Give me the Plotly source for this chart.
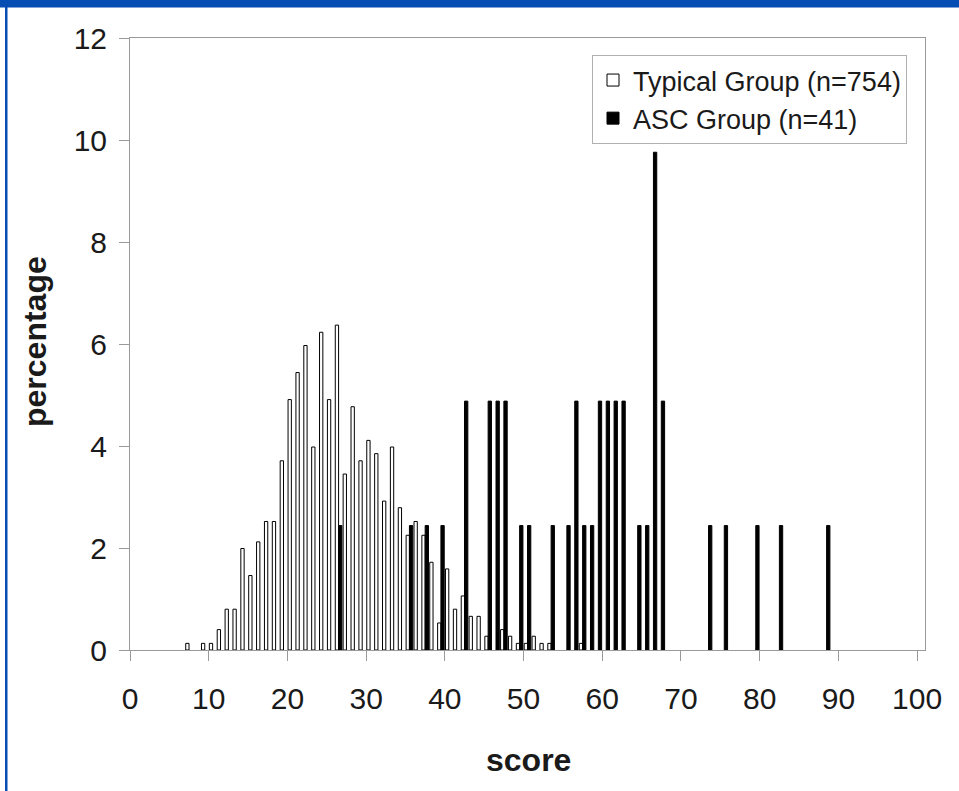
import plotly.graph_objects as go

# ---- data ----
typical_scores = [7, 9, 10, 11, 12, 13, 14, 15, 16, 17, 18, 19, 20, 21, 22, 23, 24, 25, 26, 27,
                  28, 29, 30, 31, 32, 33, 34, 35, 36, 37, 38, 39, 40, 41, 42, 43, 44, 45, 47,
                  48, 49, 50, 51, 52, 53, 57]
typical_pct = [0.13, 0.13, 0.13, 0.40, 0.80, 0.80, 1.99, 1.46, 2.12, 2.52, 2.52, 3.71, 4.91, 5.44,
               5.97, 3.98, 6.23, 4.91, 6.37, 3.45, 4.77, 3.71, 4.11, 3.85, 2.92, 3.98, 2.79, 2.25,
               2.52, 2.25, 1.72, 0.53, 1.59, 0.80, 1.06, 0.66, 0.66, 0.27, 0.40, 0.27, 0.13, 0.13,
               0.27, 0.13, 0.13, 0.13]

asc_scores = [26, 35, 37, 39, 42, 45, 46, 47, 49, 50, 53, 55, 56, 57, 58, 59, 60, 61, 62, 64,
              65, 66, 67, 73, 75, 79, 82, 88]
asc_pct = [2.44, 2.44, 2.44, 2.44, 4.88, 4.88, 4.88, 4.88, 2.44, 2.44, 2.44, 2.44, 4.88, 2.44,
           2.44, 4.88, 4.88, 4.88, 4.88, 2.44, 2.44, 9.76, 4.88, 2.44, 2.44, 2.44, 2.44, 2.44]

x_ticks = [0, 10, 20, 30, 40, 50, 60, 70, 80, 90, 100]
y_ticks = [0, 2, 4, 6, 8, 10, 12]

typical_name = "Typical Group (n=754)"
asc_name = "ASC Group (n=41)"

# ---- layout geometry (pixels) ----
W, H = 959, 791
L, R, T, B = 130, 925, 38, 650
PW, PH = R - L, B - T


def px_x(p):
    return (p - L) / PW


def px_y(p):
    return (B - p) / PH


FONT = "Liberation Sans, Arial, sans-serif"

fig = go.Figure()
fig.add_trace(go.Bar(
    x=[s + 0.5 for s in typical_scores], y=typical_pct, name=typical_name,
    width=0.42, offset=-0.42,
    marker=dict(color="white", line=dict(color="black", width=1)),
))
fig.add_trace(go.Bar(
    x=[s + 0.5 for s in asc_scores], y=asc_pct, name=asc_name,
    width=0.42, offset=0.0,
    marker=dict(color="black", line=dict(color="black", width=1)),
))

fig.update_layout(
    width=W, height=H,
    margin=dict(l=L, r=W - R, t=T, b=H - B, pad=0),
    paper_bgcolor="white", plot_bgcolor="white",
    barmode="overlay",
    showlegend=True,
    font=dict(family=FONT, color="#1a1a1a"),
    legend=dict(
        x=px_x(907), y=px_y(55), xanchor="right", yanchor="top",
        bgcolor="white", bordercolor="#b0b0b0", borderwidth=1,
        font=dict(family=FONT, size=27, color="#1a1a1a"),
        itemwidth=30, tracegroupgap=2,
    ),
    xaxis=dict(
        range=[0, 101], tickmode="array", tickvals=x_ticks,
        ticktext=[str(v) for v in x_ticks],
        showgrid=False, zeroline=False,
        showline=True, linecolor="#9a9a9a", linewidth=1, mirror=True,
        ticks="outside", ticklen=10, tickcolor="#9a9a9a",
        tickfont=dict(family=FONT, size=30, color="#1a1a1a"),
        ticklabelstandoff=12,
    ),
    yaxis=dict(
        range=[0, 12], tickmode="array", tickvals=y_ticks,
        showgrid=False, zeroline=False,
        showline=True, linecolor="#9a9a9a", linewidth=1, mirror=True,
        ticks="outside", ticklen=10, tickcolor="#9a9a9a",
        tickfont=dict(family=FONT, size=30, color="#1a1a1a"),
        ticklabelstandoff=6,
    ),
    annotations=[
        dict(text="<b>score</b>", xref="paper", yref="paper",
             x=px_x(528), y=px_y(760), xanchor="center", yanchor="middle",
             showarrow=False, font=dict(family=FONT, size=32, color="#1a1a1a")),
        dict(text="<b>percentage</b>", xref="paper", yref="paper",
             x=px_x(35), y=px_y(342), xanchor="center", yanchor="middle",
             textangle=-90, showarrow=False,
             font=dict(family=FONT, size=32, color="#1a1a1a")),
    ],
    shapes=[
        dict(type="rect", xref="paper", yref="paper", layer="above",
             x0=px_x(0), x1=px_x(W), y0=px_y(0), y1=px_y(7.5),
             fillcolor="#064db3", line=dict(width=0)),
        dict(type="rect", xref="paper", yref="paper", layer="above",
             x0=px_x(5), x1=px_x(7.5), y0=px_y(0), y1=px_y(H),
             fillcolor="#064db3", line=dict(width=0)),
    ],
)

fig.write_html(
    "out.html",
    config={"displayModeBar": False},
    post_script="document.body.style.margin='0';document.body.style.overflow='hidden';",
)
